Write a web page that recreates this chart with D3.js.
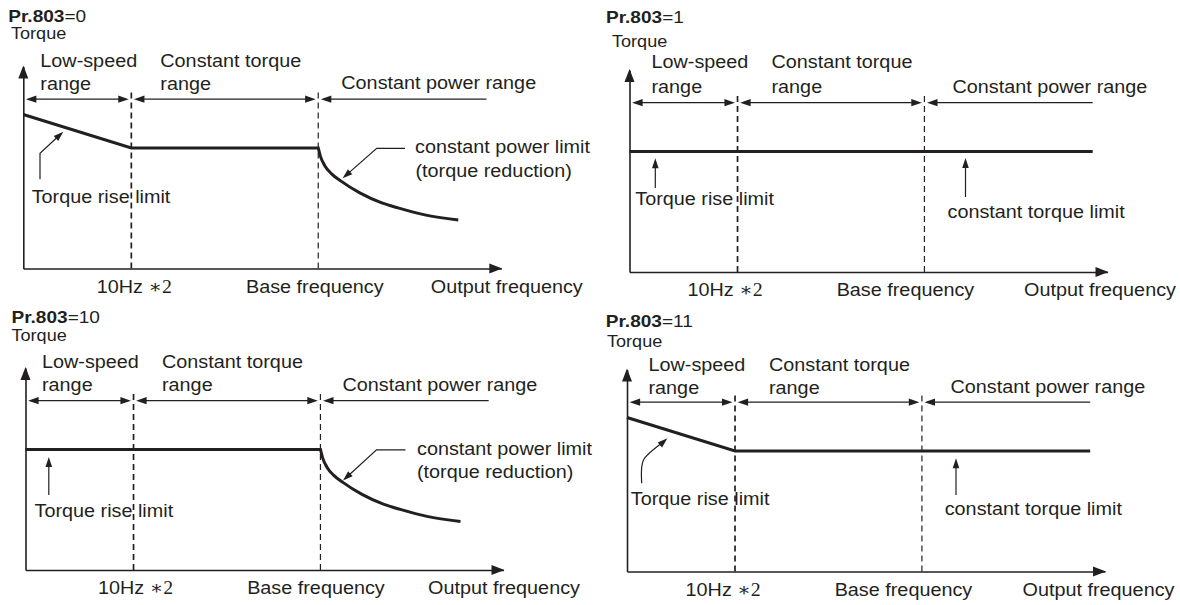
<!DOCTYPE html>
<html><head><meta charset="utf-8">
<script src="https://cdn.jsdelivr.net/npm/d3@7"></script>
<style>
html,body{margin:0;padding:0;background:#fff;}
svg text{font-family:"Liberation Sans",Arial,Helvetica,sans-serif;font-size:18.7px;fill:#231f20;}
svg text.small{font-size:16.3px;}
</style></head><body>
<svg id="chart" width="1180" height="605"></svg>
<script>
// ---------------- data ----------------
const paramName = "Pr.803";
const paramValues = ["0", "1", "10", "11"];
const yAxisTitle = "Torque";
const rangeNames = [["Low-speed", "range"], ["Constant torque", "range"], ["Constant power range"]];
const tickLabels = ["10Hz ", "Base frequency", "Output frequency"];
const noteMark = "\u22172";
const noteTexts = ["Torque rise limit", "constant power limit", "(torque reduction)", "constant torque limit"];
// frequency breakpoints, relative units (axis 0..100)
const freqBreaks = [0, 22.6, 61.7, 96.9];
const tickFreqs = [22.6, 61.7, 100];
// torque limit (freq, torque) relative units (axis 0..101)
const torqueLine0 = [[0, 77], [22.6, 60.3], [61.7, 60.3]];
const torqueLine1 = [[0, 60.3], [96.9, 60.3]];
const torqueLine10 = [[0, 60.3], [61.7, 60.3]];
const torqueLine11 = [[0, 77], [22.6, 60.3], [96.9, 60.3]];
const powerLimitCurve = [[61.7, 60.3], [62.2, 55.8], [63.1, 51.3], [64.5, 47.3], [66.4, 43.8], [70.4, 37.8], [75, 32.8], [78.4, 30.3], [84, 26.8], [91, 24.3]];

// ---------------- layout ----------------
const INK = "#231f20";
const SX = 1.06;      // horizontal stretch of body text
const layout = [
  { ox: 23.3, oy: 268.5, title: [-15, -246.8], torque: [-12.3, -229.2],
    rows: [-201.8, -179, -179.5], rangeX: [17, 137, 318], tickDx: [2.5, -4, 5],
    rise: { text: [8.4, -65.8], leader: [[16.7, -89.2], [16.7, -115.2], [40, -136.8]], curved: false },
    right: { kind: "power", text: [391.7, -115.5], text2: [392.2, -91.6], leader: [[381.7, -120.2], [353.4, -120.2], [319.3, -90.2]] } },
  { ox: 629.5, oy: 272, title: [-23.5, -249.3], torque: [-17.5, -225.3],
    rows: [-203.7, -179.5, -179.3], rangeX: [22, 142, 323], tickDx: [-13, -19.5, -8],
    rise: { text: [5.8, -66.7], leader: [[25.8, -84], [25.8, -113.7]], curved: false },
    right: { kind: "torque", text: [318, -54.3], leader: [[336, -75], [336, -114]] } },
  { ox: 25.5, oy: 570, title: [-14, -246.8], torque: [-14, -229.2],
    rows: [-201.8, -179, -179.5], rangeX: [16.5, 136.5, 317], tickDx: [1.5, -5, 0],
    rise: { text: [9, -53.3], leader: [[23.3, -75], [23.3, -113]], curved: false },
    right: { kind: "power", text: [391.5, -115.5], text2: [391.5, -91.6], leader: [[380, -120.2], [351, -120.2], [317.5, -89.5]] } },
  { ox: 627, oy: 571.5, title: [-21.2, -244.8], torque: [-20, -224.2],
    rows: [-200.8, -177.2, -178.2], rangeX: [21.5, 142, 323.4], tickDx: [-12.4, -19, -7],
    rise: { text: [3.8, -66.5], leader: [[14.7, -88.2], [14.7, -104], [17, -112.5], [40.4, -133.2]], curved: true },
    right: { kind: "torque", text: [317.7, -56.5], leader: [[329, -76.5], [329, -113.2]] } }
];
const panelLines = [torqueLine0, torqueLine1, torqueLine10, torqueLine11];
const panelCurves = [powerLimitCurve, null, powerLimitCurve, null];

const svg = d3.select("#chart");

function txt(g, x, y, s, cls, sx) {
  const t = g.append("text").attr("transform", `translate(${x},${y}) scale(${sx || SX},1)`);
  if (cls) t.attr("class", cls);
  if (s != null) t.text(s);
  return t;
}
function head(g, x1, y1, x2, y2, len, half) {
  const dx = x2 - x1, dy = y2 - y1, d = Math.hypot(dx, dy), ux = dx / d, uy = dy / d;
  const bx = x2 - ux * len, by = y2 - uy * len;
  g.append("path")
    .attr("d", `M${x2},${y2}L${bx - uy * half},${by + ux * half}L${bx + uy * half},${by - ux * half}Z`)
    .attr("fill", INK);
}
function leader(g, pts, w, curved) {
  const n = pts.length;
  const [px, py] = pts[n - 2], [tx, ty] = pts[n - 1];
  const d = Math.hypot(tx - px, ty - py);
  const sh = pts.slice(0, n - 1).concat([[tx - (tx - px) / d * 6, ty - (ty - py) / d * 6]]);
  const ln = d3.line();
  if (curved) ln.curve(d3.curveCatmullRom.alpha(0.5));
  g.append("path").attr("d", ln(sh)).attr("fill", "none").attr("stroke", INK).attr("stroke-width", w);
  head(g, px, py, tx, ty, 10, 3.3);
}

layout.forEach((L, i) => {
  const g = svg.append("g");
  const x = d3.scaleLinear().domain([0, 100]).range([L.ox, L.ox + 478]);
  const y = d3.scaleLinear().domain([0, 101]).range([L.oy, L.oy - 202]);

  // title and y-axis name
  const t = txt(g, L.ox + L.title[0], L.oy + L.title[1], null, "small", 1.17);
  t.append("tspan").attr("font-weight", "bold").text(paramName);
  t.append("tspan").text("=" + paramValues[i]);
  txt(g, L.ox + L.torque[0], L.oy + L.torque[1], yAxisTitle, "small", 1.11);

  // dashed boundaries
  [freqBreaks[1], freqBreaks[2]].forEach((f, k) => {
    g.append("line").attr("x1", x(f)).attr("x2", x(f)).attr("y1", y(0)).attr("y2", y(88.5))
      .attr("stroke", INK).attr("stroke-width", k === 0 ? 1.7 : 1.2).attr("stroke-dasharray", "6,4");
  });

  // axes
  const xa = g.append("g").attr("transform", `translate(0,${L.oy})`)
    .call(d3.axisBottom(x).tickValues(tickFreqs).tickSize(0).tickSizeOuter(0).tickFormat((d, k) => tickLabels[k]));
  xa.select(".domain").attr("stroke", INK).attr("stroke-width", 1.6);
  xa.selectAll(".tick text").attr("y", null).attr("dy", null)
    .attr("transform", (d, k) => `translate(${L.tickDx[k]},24.2) scale(${SX},1)`);
  xa.selectAll(".tick text").filter((d, k) => k === 0)
    .append("tspan").attr("font-family", "'Liberation Serif','DejaVu Serif',serif").text(noteMark);
  head(g, x(99), L.oy, x(100) + 1, L.oy, 13, 5);

  const ya = g.append("g").attr("transform", `translate(${L.ox},0)`)
    .call(d3.axisLeft(y).tickValues([]).tickSizeOuter(0));
  ya.select(".domain").attr("stroke", INK).attr("stroke-width", 1.6);
  head(g, L.ox, y(99), L.ox, y(101) - 1, 13, 5);

  // range arrows
  const ar = y(84.65);
  const gap = 2.6;
  for (let k = 0; k < 3; k++) {
    const a = x(freqBreaks[k]) + gap, b = x(freqBreaks[k + 1]) - (k < 2 ? gap : 0);
    g.append("line").attr("x1", a + 6).attr("x2", k < 2 ? b - 6 : b).attr("y1", ar).attr("y2", ar)
      .attr("stroke", INK).attr("stroke-width", 1.3);
    head(g, a + 10, ar, a, ar, 10.5, 3.6);
    if (k < 2) head(g, b - 10, ar, b, ar, 10.5, 3.6);
  }
  // range labels
  txt(g, L.ox + L.rangeX[0], L.oy + L.rows[0], rangeNames[0][0]);
  txt(g, L.ox + L.rangeX[0], L.oy + L.rows[1], rangeNames[0][1]);
  txt(g, L.ox + L.rangeX[1], L.oy + L.rows[0], rangeNames[1][0]);
  txt(g, L.ox + L.rangeX[1], L.oy + L.rows[1], rangeNames[1][1]);
  txt(g, L.ox + L.rangeX[2], L.oy + L.rows[2], rangeNames[2][0]);

  // torque limit line
  const lin = d3.line().x(d => x(d[0])).y(d => y(d[1]));
  let dstr = lin(panelLines[i]);
  if (panelCurves[i]) {
    const cur = d3.line().x(d => x(d[0])).y(d => y(d[1])).curve(d3.curveMonotoneX);
    dstr += cur(panelCurves[i]).replace(/^M/, "L");
  }
  g.append("path").attr("d", dstr).attr("fill", "none").attr("stroke", INK).attr("stroke-width", 3);

  // annotations
  const P = p => [L.ox + p[0], L.oy + p[1]];
  txt(g, L.ox + L.rise.text[0], L.oy + L.rise.text[1], noteTexts[0]);
  leader(g, L.rise.leader.map(P), 1.2, L.rise.curved);
  if (L.right.kind === "power") {
    txt(g, L.ox + L.right.text[0], L.oy + L.right.text[1], noteTexts[1]);
    txt(g, L.ox + L.right.text2[0], L.oy + L.right.text2[1], noteTexts[2]);
  } else {
    txt(g, L.ox + L.right.text[0], L.oy + L.right.text[1], noteTexts[3]);
  }
  leader(g, L.right.leader.map(P), 1.2, false);
});
</script>
</body></html>
